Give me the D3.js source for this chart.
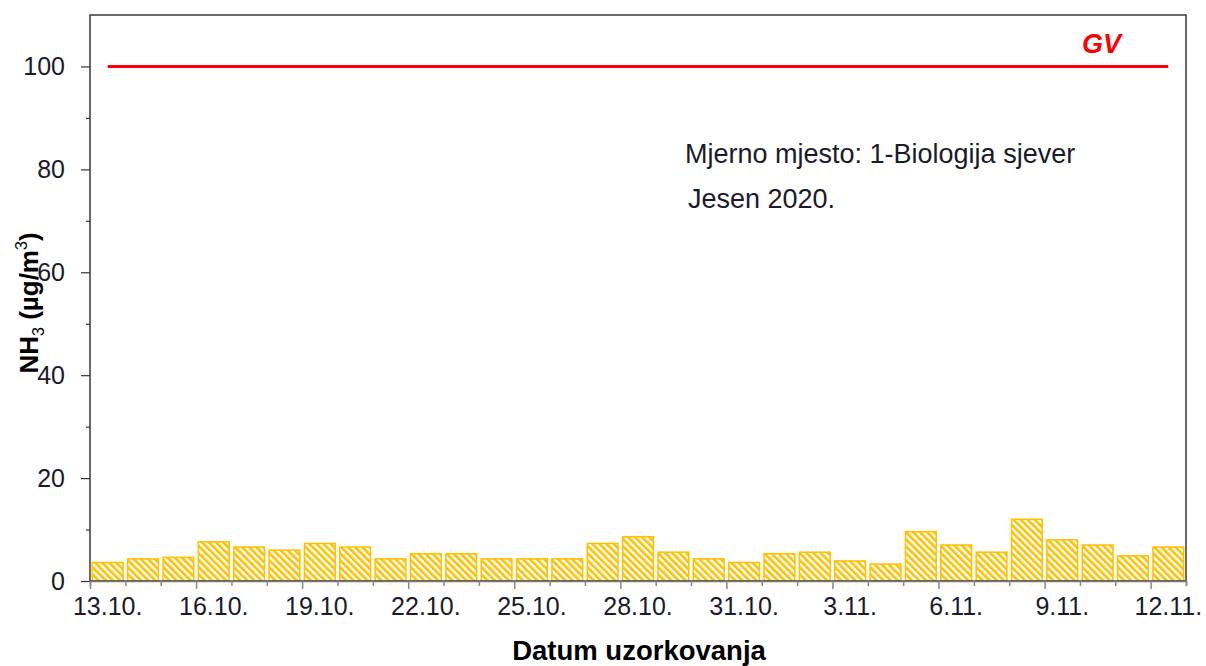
<!DOCTYPE html>
<html>
<head>
<meta charset="utf-8">
<script src="https://cdn.jsdelivr.net/npm/d3@7"></script>
<style>
  body { margin: 0; background: #fff; }
  svg text { font-family: "Liberation Sans", Arial, sans-serif; fill: #1a1a2a; }
</style>
</head>
<body>
<div id="chart"></div>
<script>
// sampling dates (autumn 2020) and measured NH3 values
var dates = ['13.10.','14.10.','15.10.','16.10.','17.10.','18.10.','19.10.','20.10.','21.10.','22.10.',
  '23.10.','24.10.','25.10.','26.10.','27.10.','28.10.','29.10.','30.10.','31.10.',
  '1.11.','2.11.','3.11.','4.11.','5.11.','6.11.','7.11.','8.11.','9.11.','10.11.','11.11.','12.11.']
var nh3 = [3.6, 4.3, 4.6, 7.6, 6.6, 6.0, 7.3, 6.6, 4.3, 5.3,
  5.3, 4.3, 4.3, 4.3, 7.3, 8.6, 5.6, 4.3, 3.6, 5.3,
  5.6, 3.9, 3.3, 9.6, 7.0, 5.6, 12.0, 8.0, 7.0, 4.9, 6.6]
var labelDates = ['13.10.','16.10.','19.10.','22.10.','25.10.','28.10.','31.10.','3.11.','6.11.','9.11.','12.11.']
var yTicks = [0, 20, 40, 60, 80, 100]
var yMinorTicks = [10, 30, 50, 70, 90]
var gvDates = ['13.10.', '12.11.']
var gvValue = 100

var W = 1206, H = 666
var margin = {left: 90, right: 20, top: 15, bottom: 85}
var width = W - margin.left - margin.right
var height = H - margin.top - margin.bottom

var svg = d3.select('#chart').append('svg').attr('width', W).attr('height', H)

var defs = svg.append('defs')
var pat = defs.append('pattern')
  .attr('id', 'hatch')
  .attr('patternUnits', 'userSpaceOnUse')
  .attr('width', 5).attr('height', 5)
  .attr('patternTransform', 'rotate(-45)')
pat.append('rect').attr('width', 5).attr('height', 5).attr('fill', '#fff')
pat.append('rect').attr('width', 2.6).attr('height', 5).attr('fill', '#FFC000')

var g = svg.append('g').attr('transform', 'translate(' + margin.left + ',' + margin.top + ')')

var x = d3.scaleBand().domain(dates).range([0, width]).paddingInner(0.13).paddingOuter(0.065)
var xEdge = d3.scaleLinear().domain([0, dates.length]).range([0, width])
var y = d3.scaleLinear().domain([0, 110]).range([height, 0])

// bars
g.selectAll('rect.bar').data(dates).enter().append('rect')
  .attr('class', 'bar')
  .attr('x', function(d){ return x(d) })
  .attr('width', x.bandwidth())
  .attr('y', function(d, i){ return y(nh3[i]) })
  .attr('height', function(d, i){ return y(0) - y(nh3[i]) })
  .attr('fill', 'url(#hatch)')
  .attr('stroke', '#FFC000')
  .attr('stroke-width', 1.5)

// limit value line
var gvLine = d3.line()
  .x(function(d){ return x(d) + x.bandwidth() / 2 })
  .y(function(){ return y(gvValue) })
g.append('path').attr('d', gvLine(gvDates))
  .attr('fill', 'none').attr('stroke', '#FF0000').attr('stroke-width', 3)

g.append('text')
  .attr('x', 992).attr('y', 38)
  .style('font-size', '27px').style('font-weight', 'bold').style('font-style', 'italic')
  .style('fill', '#FF0000')
  .text('GV')

// frame
g.append('rect').attr('width', width).attr('height', height)
  .attr('fill', 'none').attr('stroke', '#3a3a3a').attr('stroke-width', 1.5)

// y axis
var yAxis = d3.axisLeft(y).tickValues(yTicks).tickSize(9).tickPadding(16)
var ya = g.append('g').call(yAxis)
ya.select('.domain').remove()
ya.selectAll('line').attr('stroke', '#333').attr('stroke-width', 1.2)
ya.selectAll('text').style('font-size', '25px').style('fill', '#1a1a2a')
var ym = g.append('g').call(d3.axisLeft(y).tickValues(yMinorTicks).tickSize(4).tickFormat(''))
ym.select('.domain').remove()
ym.selectAll('line').attr('stroke', '#333').attr('stroke-width', 1.2)

// x axis: ticks at band edges, labels at band centres
var xt = g.append('g').attr('transform', 'translate(0,' + height + ')')
  .call(d3.axisBottom(xEdge).tickValues(d3.range(dates.length + 1)).tickFormat('').tickSizeOuter(0)
    .tickSize(5))
xt.select('.domain').attr('stroke', '#777').attr('stroke-width', 1.5)
xt.selectAll('.tick line')
  .attr('stroke', '#888').attr('stroke-width', 1.5)
  .attr('y2', function(d){ return d % 3 == 0 ? 8 : 5 })

var xl = g.append('g').attr('transform', 'translate(0,' + height + ')')
  .call(d3.axisBottom(x).tickValues(labelDates).tickSize(0).tickPadding(16))
xl.select('.domain').remove()
xl.selectAll('text').style('font-size', '25px').style('fill', '#1a1a2a')

// axis titles
svg.append('text')
  .attr('x', 639).attr('y', 660)
  .attr('text-anchor', 'middle')
  .style('font-size', '27.5px').style('font-weight', 'bold').style('fill', '#000')
  .text('Datum uzorkovanja')

var yt = svg.append('text')
  .attr('transform', 'translate(38,303) rotate(-90)')
  .attr('text-anchor', 'middle')
  .style('font-size', '26px').style('font-weight', 'bold').style('fill', '#000')
yt.append('tspan').text('NH')
yt.append('tspan').attr('dy', 6).style('font-size', '16px').style('font-weight', 'normal').text('3')
yt.append('tspan').attr('dy', -6).text(' (µg/m')
yt.append('tspan').attr('dy', -11).style('font-size', '16px').style('font-weight', 'normal').text('3')
yt.append('tspan').attr('dy', 11).text(')')

// annotation
svg.append('text').attr('x', 685).attr('y', 163)
  .style('font-size', '27px').text('Mjerno mjesto:  1-Biologija sjever')
svg.append('text').attr('x', 688).attr('y', 208)
  .style('font-size', '27px').text('Jesen 2020.')
</script>
</body>
</html>
